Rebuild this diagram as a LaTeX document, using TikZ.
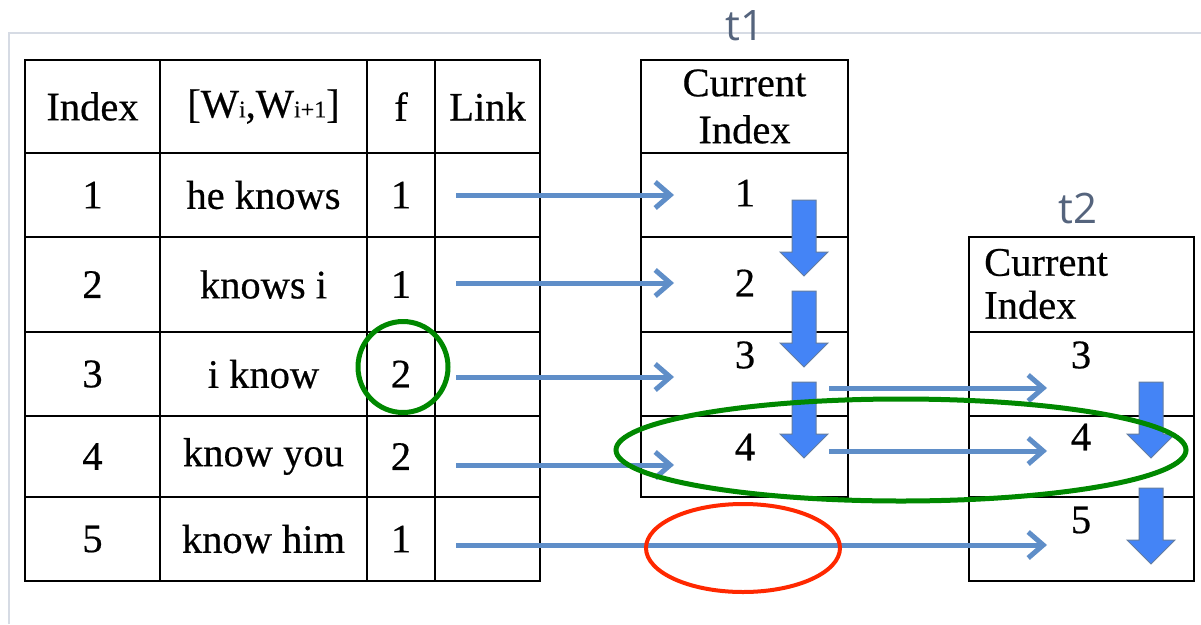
\documentclass[tikz,border=0pt]{standalone}
\usepackage{fontspec}
\setmainfont{Liberation Serif}[FakeBold=0.5]
\newfontfamily\labelfont{Open Sans}
\usetikzlibrary{arrows.meta,shapes.geometric}
\definecolor{framec}{RGB}{214,219,228}
\definecolor{thinarrow}{RGB}{95,142,200}
\definecolor{blockfill}{RGB}{68,132,246}
\definecolor{blockedge}{RGB}{100,125,160}
\definecolor{markgreen}{RGB}{0,136,0}
\definecolor{markred}{RGB}{255,40,0}
\definecolor{labelc}{RGB}{85,100,125}
\tikzset{
  cell/.style={draw, line width=2pt, inner sep=0pt, anchor=center},
  txt/.style={inner sep=0pt, font=\fontsize{40.5}{44}\selectfont},
  hdr/.style={inner sep=0pt, font=\fontsize{40.5}{47}\selectfont},
  tlabel/.style={inner sep=0pt, text=labelc, font=\labelfont\fontsize{42}{48}\selectfont},
  linkarrow/.style={draw=thinarrow, line width=5pt, -{Straight Barb[length=15pt,width=26pt]}},
  blockarrow/.style={fill=blockfill, draw=blockedge, line width=1pt},
  ringmark/.style={ellipse, draw, inner sep=0pt, fill=none},
  downarrow/.pic={\filldraw[blockarrow] (-12,0)--(12,0)--(12,52)--(24,52)--(0,76)--(-24,52)--(-12,52)--cycle;}
}
\begin{document}
\begin{tikzpicture}[x=1pt,y=-1pt]
\useasboundingbox (0,0) rectangle (1201,624);
% frame
\coordinate (fr1) at (9,624);
\coordinate (fr2) at (9,33);
\coordinate (fr3) at (1201,33);
\draw[framec, line width=2pt] (fr1) -- (fr2) -- (fr3);

% main table header
\node[cell, minimum width=135pt, minimum height=93pt] (ih) at (92.5,106.5) {};
\node[cell, minimum width=207pt, minimum height=93pt] (wh) at (263.5,106.5) {};
\node[cell, minimum width=68pt, minimum height=93pt] (fh) at (401,106.5) {};
\node[cell, minimum width=105pt, minimum height=93pt] (lh) at (487.5,106.5) {};
\node[txt] (ihT) at (92.5,106.5) {Index};
\node[txt] (whT) at (263.5,106.5) {[W{\fontsize{24}{24}\selectfont i},W{\fontsize{24}{24}\selectfont i+1}]};
\node[txt] (fhT) at (401,106.5) {f};
\node[txt] (lhT) at (487.5,106.5) {Link};

\foreach \rn/\cy/\h/\ta/\tb/\tc in {1/195/84/1/he knows/1, 2/284.5/95/2/knows i/1, 3/374/84/3/i know/2, 4/456.5/81/4/know you/2, 5/539/84/5/know him/1}{
  \node[cell, minimum width=135pt, minimum height=\h pt] (i\rn) at (92.5,\cy) {};
  \node[cell, minimum width=207pt, minimum height=\h pt] (w\rn) at (263.5,\cy) {};
  \node[cell, minimum width=68pt, minimum height=\h pt] (f\rn) at (401,\cy) {};
  \node[cell, minimum width=105pt, minimum height=\h pt] (l\rn) at (487.5,\cy) {};
  \node[txt] (iT\rn) at (92.5,\cy) {\ta};
  \node[txt] (wT\rn) at (263.5,\cy) {\tb};
  \node[txt] (fT\rn) at (401,\cy) {\tc};
}

% t1 table
\node[tlabel] (t1lab) at (745,26) {t1};
\node[cell, minimum width=207pt, minimum height=93pt] (ah) at (744.5,106.5) {};
\node[hdr, align=center] (ahT) at (744.5,106.5) {Current\\Index};
\node[cell, minimum width=207pt, minimum height=84pt] (a1) at (744.5,195) {};
\node[cell, minimum width=207pt, minimum height=95pt] (a2) at (744.5,284.5) {};
\node[cell, minimum width=207pt, minimum height=84pt] (a3) at (744.5,374) {};
\node[cell, minimum width=207pt, minimum height=81pt] (a4) at (744.5,456.5) {};
\node[txt] (aT1) at (745,193) {1};
\node[txt] (aT2) at (745,283) {2};
\node[txt] (aT3) at (745,355) {3};
\node[txt] (aT4) at (745,447) {4};

% t2 table
\node[tlabel] (t2lab) at (1078,208) {t2};
\node[cell, minimum width=225pt, minimum height=95pt] (bh) at (1081.5,284.5) {};
\node[hdr, align=left, anchor=west, font=\fontsize{40.5}{43}\selectfont] (bhT) at (984,284) {Current\\Index};
\node[cell, minimum width=225pt, minimum height=84pt] (b3) at (1081.5,374) {};
\node[cell, minimum width=225pt, minimum height=81pt] (b4) at (1081.5,456.5) {};
\node[cell, minimum width=225pt, minimum height=84pt] (b5) at (1081.5,539) {};
\node[txt] (bT3) at (1081,355) {3};
\node[txt] (bT4) at (1081,437) {4};
\node[txt] (bT5) at (1081,520) {5};

% link arrows
\coordinate (s1) at (456,195);  \coordinate (e1) at (674,195);
\coordinate (s2) at (456,283);  \coordinate (e2) at (674,283);
\coordinate (s3) at (456,377);  \coordinate (e3) at (674,377);
\coordinate (s4) at (456,465);  \coordinate (e4) at (674,465);
\coordinate (s5) at (456,545);  \coordinate (e5) at (1047,545);
\coordinate (s6) at (829,388);  \coordinate (e6) at (1047,388);
\coordinate (s7) at (829,451);  \coordinate (e7) at (1047,451);
\foreach \k in {1,...,7}{\draw[linkarrow] (s\k) -- (e\k);}

% block arrows
\pic (da1) at (804,200) {downarrow};
\pic (da2) at (804,291) {downarrow};
\pic (da3) at (804,382) {downarrow};
\pic (db1) at (1151,382) {downarrow};
\pic (db2) at (1151,488) {downarrow};

% marks
\node[ringmark, draw=markgreen, line width=5pt, minimum width=90pt, minimum height=91pt] (gc) at (403,367) {};
\node[ringmark, draw=markgreen, line width=5pt, minimum width=570pt, minimum height=102pt] (ge) at (901,450) {};
\node[ringmark, draw=markred, line width=4pt, minimum width=194pt, minimum height=88pt] (re) at (743,548) {};
\end{tikzpicture}
\end{document}
